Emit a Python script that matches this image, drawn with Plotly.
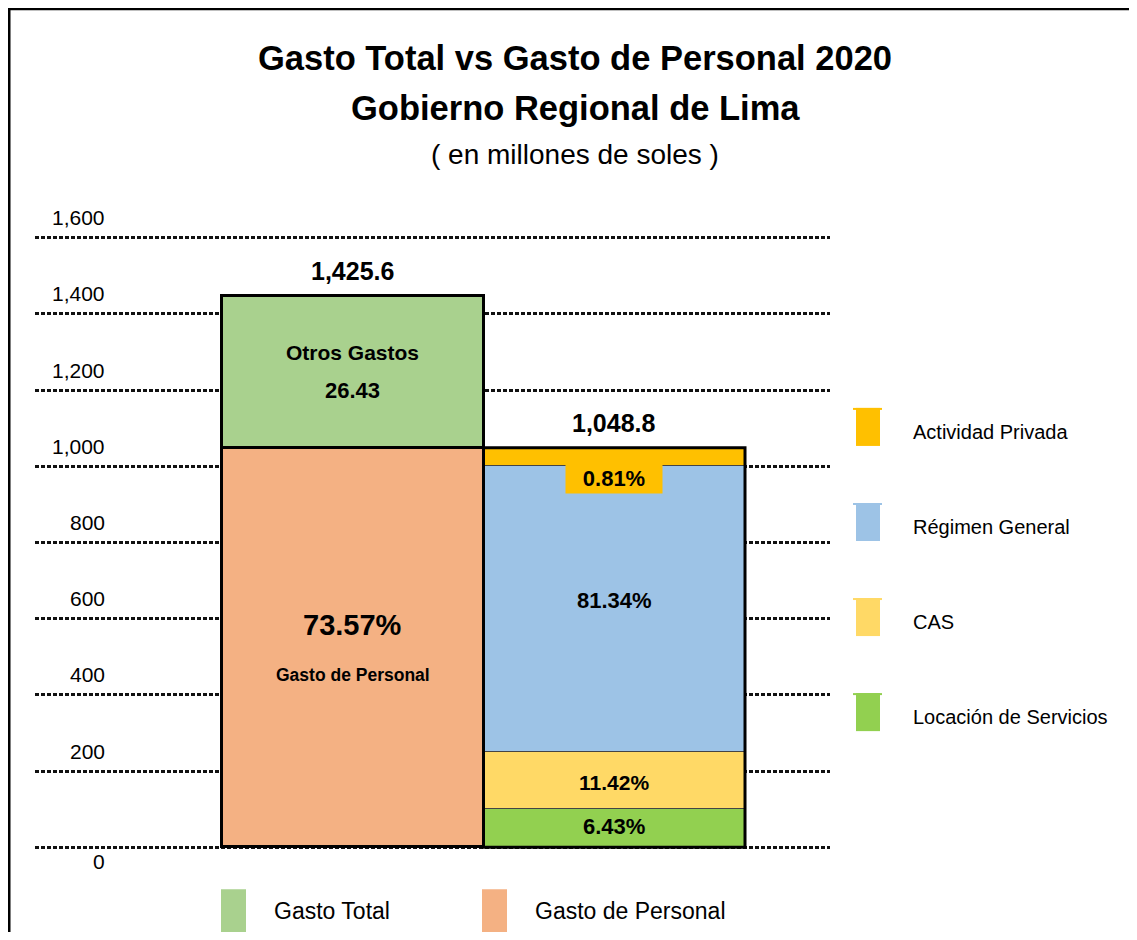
import plotly.graph_objects as go

# ---------------- data ----------------
bar_x = [0, 1]
left_segments = ["Gasto de Personal", "Otros Gastos"]
left_values = [1048.8, 398.0]
left_colors = ["#F4B183", "#A9D18E"]

right_segments = ["Locación de Servicios", "CAS", "Régimen General", "Actividad Privada"]
right_values = [100.0, 150.0, 750.0, 48.8]
right_colors = ["#92D050", "#FFD966", "#9DC3E6", "#FFC000"]
right_pct_labels = ["6.43%", "11.42%", "81.34%", "0.81%"]

total_labels = ["1,425.6", "1,048.8"]
otros_pct = "26.43"
personal_pct = "73.57%"

y_ticks = [0, 200, 400, 600, 800, 1000, 1200, 1400, 1600]
y_tick_labels = ["0", "200", "400", "600", "800", "1,000", "1,200", "1,400", "1,600"]

legend_right = ["Actividad Privada", "Régimen General", "CAS", "Locación de Servicios"]
legend_right_colors = ["#FFC000", "#9DC3E6", "#FFD966", "#92D050"]
legend_bottom = ["Gasto Total", "Gasto de Personal"]
legend_bottom_colors = ["#A9D18E", "#F4B183"]

NARROW = "Liberation Sans Narrow, Arial Narrow, Liberation Sans, Arial, sans-serif"
ARIAL = "Liberation Sans, Arial, sans-serif"

# ---------------- geometry (reference pixels) ----------------
OFF = 8                      # browser body margin
WIN_W, WIN_H = 1137, 940
W, H = WIN_W - 2 * OFF, WIN_H - 2 * OFF
Y0, Y1 = -10, 1610           # y range (slightly padded so edge gridlines show)
PX_PER_UNIT = (847 - 238) / 1600.0
PL, PR = 35, 830
PB = 847 + (0 - Y0) * PX_PER_UNIT
PT = 238 - (Y1 - 1600) * PX_PER_UNIT


def xp(px):
    return (px - PL) / (PR - PL)


def yp(py):
    return (PB - py) / (PB - PT)


fig = go.Figure()

for name, val, col in zip(left_segments, left_values, left_colors):
    fig.add_trace(go.Bar(x=[bar_x[0]], y=[val], name=name, width=1,
                         marker=dict(color=col, line=dict(color="black", width=3)),
                         showlegend=False, hoverinfo="name+y"))
for name, val, col in zip(right_segments, right_values, right_colors):
    fig.add_trace(go.Bar(x=[bar_x[1]], y=[val], name=name, width=1,
                         marker=dict(color=col, line=dict(color="#444444", width=1.5)),
                         showlegend=False, hoverinfo="name+y"))

left_total = sum(left_values)
right_total = sum(right_values)

shapes = []
shapes.append(dict(type="rect", xref="x", yref="y", x0=bar_x[1] - 0.5, x1=bar_x[1] + 0.5,
                   y0=0, y1=right_total, line=dict(color="black", width=3), layer="above"))
shapes.append(dict(type="line", xref="paper", yref="paper", x0=xp(8.5), x1=xp(8.5),
                   y0=yp(7), y1=yp(WIN_H + 5), line=dict(color="black", width=4)))
shapes.append(dict(type="line", xref="paper", yref="paper", x0=xp(7), x1=xp(WIN_W + 5),
                   y0=yp(8.5), y1=yp(8.5), line=dict(color="black", width=4)))

annotations = []


def txt(x, y, text, size, family=NARROW, xanchor="center", xref="paper", yref="paper",
        yshift=0, **kw):
    d = dict(xref=xref, yref=yref, x=x, y=y, text=text, showarrow=False, xanchor=xanchor,
             yanchor="middle", yshift=yshift, font=dict(family=family, size=size, color="black"))
    d.update(kw)
    annotations.append(d)


# titles
txt(xp(575), yp(58), "<b>Gasto Total vs Gasto de Personal 2020</b>", 34.5, ARIAL)
txt(xp(575), yp(108), "<b>Gobierno Regional de Lima</b>", 34.5, ARIAL)
txt(xp(575), yp(155), "( en millones de soles )", 28, ARIAL)

# y tick labels
for v, t in zip(y_ticks, y_tick_labels):
    txt(xp(107), v, t, 21, xanchor="right", yref="y", yshift=(-14 if v == 0 else 20))

# totals above bars
for xv, tot, lab in zip(bar_x, [left_total, right_total], total_labels):
    txt(xv, tot, "<b>%s</b>" % lab, 25, xref="x", yref="y", yshift=25)

# left bar labels
mid_personal = left_values[0] / 2
mid_otros = left_values[0] + left_values[1] / 2
txt(bar_x[0], mid_otros, "<b>Otros Gastos</b>", 21, xref="x", yref="y", yshift=19)
txt(bar_x[0], mid_otros, "<b>%s</b>" % otros_pct, 22, xref="x", yref="y", yshift=-19)
txt(bar_x[0], mid_personal, "<b>%s</b>" % personal_pct, 29, xref="x", yref="y", yshift=22)
txt(bar_x[0], mid_personal, "<b>Gasto de Personal</b>", 17.5, xref="x", yref="y", yshift=-28)

# right bar labels
shifts = [2, -2, 9, -21]
sizes = [22, 21, 22, 22]
cum = 0
for val, lab, sh, sz, col in zip(right_values, right_pct_labels, shifts, sizes, right_colors):
    mid = cum + val / 2
    cum += val
    extra = {}
    if lab == right_pct_labels[3]:
        extra = dict(bgcolor=col, width=94, height=27)
    txt(bar_x[1], mid, "<b>%s</b>" % lab, sz, xref="x", yref="y", yshift=sh, **extra)

# right legend
leg_tops = [408, 503, 598, 693]
for lab, col, top in zip(legend_right, legend_right_colors, leg_tops):
    shapes.append(dict(type="rect", xref="paper", yref="paper", x0=xp(856), x1=xp(880),
                       y0=yp(top + 38), y1=yp(top), fillcolor=col, line=dict(width=0)))
    shapes.append(dict(type="rect", xref="paper", yref="paper", x0=xp(853), x1=xp(882),
                       y0=yp(top + 2), y1=yp(top), fillcolor=col, line=dict(width=0)))
    txt(xp(911), yp(top + 24), lab, 20, xanchor="left")

# bottom legend
bl_x = [221, 482]
for lab, col, x0 in zip(legend_bottom, legend_bottom_colors, bl_x):
    shapes.append(dict(type="rect", xref="paper", yref="paper", x0=xp(x0), x1=xp(x0 + 25),
                       y0=yp(932), y1=yp(889), fillcolor=col, line=dict(width=0)))
    txt(xp(x0 + 51), yp(911), lab, 23, xanchor="left")

fig.update_layout(
    width=W, height=H, barmode="stack", bargap=0,
    paper_bgcolor="white", plot_bgcolor="white",
    margin=dict(l=PL - OFF, r=(WIN_W - OFF) - PR, t=PT - OFF, b=(WIN_H - OFF) - PB, pad=0),
    showlegend=False,
    xaxis=dict(range=[-1.215, 1.825], showticklabels=False, showgrid=False,
               zeroline=False, showline=False, fixedrange=True),
    yaxis=dict(range=[Y0, Y1], tickvals=y_ticks, showticklabels=False, showgrid=True,
               gridcolor="#111111", gridwidth=2.5, griddash="4px,2px", zeroline=False,
               showline=False, ticks=""),
    shapes=shapes, annotations=annotations,
)

fig.write_html("out.html")
